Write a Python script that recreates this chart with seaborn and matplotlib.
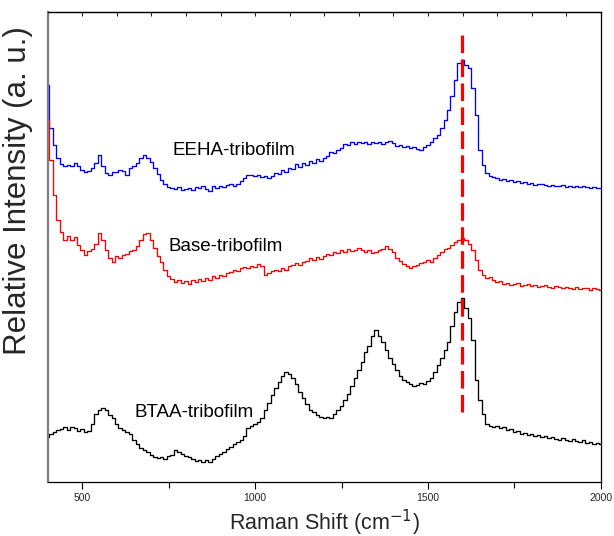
import numpy as np
import pandas as pd
import matplotlib
matplotlib.use("Agg")
import matplotlib.pyplot as plt
from matplotlib.ticker import MultipleLocator
import seaborn as sns

# Raman shift axis (cm^-1)
shift = list(range(400, 2001, 10))

eeha = [415, 372, 355, 342, 336, 334, 335, 334, 337, 334,
        330, 328, 329, 332, 337, 345, 334, 327, 325, 328,
        328, 330, 329, 325, 332, 334, 337, 342, 345, 342,
        338, 332, 326, 320, 316, 313, 312, 311, 313, 310,
        311, 312, 310, 313, 312, 314, 311, 309, 314, 312,
        314, 313, 315, 316, 314, 316, 319, 322, 325, 325,
        324, 325, 323, 324, 322, 324, 327, 326, 330, 328,
        332, 331, 336, 333, 337, 335, 339, 337, 341, 339,
        342, 344, 348, 347, 350, 352, 356, 355, 358, 356,
        358, 357, 358, 356, 358, 357, 358, 356, 358, 359,
        357, 354, 355, 353, 354, 352, 353, 351, 350, 353,
        355, 358, 362, 365, 372, 380, 390, 404, 420, 437,
        440, 435, 432, 412, 385, 350, 335, 327, 324, 323,
        322, 320, 321, 319, 320, 318, 319, 317, 318, 316,
        317, 315, 316, 316, 315, 314, 315, 314, 314, 315,
        313, 314, 313, 314, 313, 314, 313, 312, 313, 312,
        312]

base = [380, 340, 305, 280, 268, 260, 264, 260, 263, 255,
        250, 245, 249, 251, 256, 267, 260, 250, 242, 238,
        244, 242, 245, 246, 249, 250, 254, 260, 266, 267,
        260, 252, 244, 238, 230, 224, 221, 218, 220, 217,
        219, 216, 220, 218, 221, 219, 222, 220, 224, 222,
        225, 224, 227, 228, 230, 229, 232, 233, 232, 234,
        233, 236, 234, 225, 227, 229, 230, 229, 232, 230,
        234, 235, 237, 235, 238, 239, 242, 240, 243, 241,
        244, 246, 245, 248, 247, 250, 248, 251, 249, 250,
        252, 250, 248, 250, 247, 248, 250, 251, 254, 251,
        248, 242, 239, 236, 234, 232, 234, 235, 237, 238,
        240, 238, 242, 245, 248, 251, 252, 255, 258, 260,
        262, 260, 256, 250, 240, 230, 225, 222, 223, 220,
        218, 219, 216, 217, 215, 216, 217, 214, 215, 216,
        214, 215, 213, 214, 215, 213, 212, 214, 213, 212,
        213, 212, 211, 213, 211, 212, 212, 210, 212, 211,
        210]

btaa = [63, 66, 68, 70, 71, 73, 70, 73, 72, 69,
        71, 68, 69, 76, 86, 90, 92, 90, 85, 82,
        76, 72, 70, 68, 66, 60, 56, 52, 50, 48,
        45, 43, 42, 43, 41, 44, 45, 50, 48, 46,
        44, 43, 41, 39, 40, 38, 40, 38, 41, 44,
        46, 48, 51, 53, 56, 58, 60, 64, 72, 74,
        76, 78, 82, 90, 97, 105, 112, 118, 124, 128,
        126, 122, 116, 108, 102, 96, 90, 88, 85, 83,
        82, 83, 82, 86, 90, 94, 100, 106, 114, 122,
        130, 138, 148, 154, 164, 170, 164, 158, 150, 142,
        136, 130, 124, 120, 118, 116, 114, 115, 117, 116,
        119, 122, 128, 135, 142, 150, 158, 174, 188, 198,
        202, 192, 182, 160, 120, 100, 86, 76, 74, 73,
        74, 72, 73, 70, 71, 68, 69, 66, 67, 65,
        66, 64, 65, 63, 64, 62, 63, 61, 60, 62,
        60, 59, 61, 59, 58, 60, 57, 58, 56, 57,
        56]

labels = ["EEHA-tribofilm", "Base-tribofilm", "BTAA-tribofilm"]
colors = ["#0000ff", "#ff0000", "#000000"]
label_x = [760, 751, 650]
label_y = [350, 254, 88]
g_band = 1597
g_band_span = [88, 468]

sns.set_style("white")
plt.rcParams["font.family"] = ["Liberation Sans", "DejaVu Sans"]

fig = plt.figure(figsize=(6.14, 5.36), dpi=100)
ax = fig.add_axes([0.0775, 0.1007, 0.9012, 0.8769])

for series, col in zip([eeha, base, btaa], colors):
    df = pd.DataFrame({"shift": shift, "intensity": series})
    sns.lineplot(data=df, x="shift", y="intensity", ax=ax, color=col,
                 lw=0.95, drawstyle="steps-mid", estimator=None)

ax.plot([g_band, g_band], g_band_span, color="#ff0000", lw=2.3,
        linestyle=(0, (5.5, 2.0)), zorder=5)

for t, x, y in zip(labels, label_x, label_y):
    ax.text(x, y, t, fontsize=13.5, ha="left", va="center", color="black")

ax.set_xlim(400, 2000)
ax.set_ylim(18, 488)
ax.set_yticks([])
ax.xaxis.set_major_locator(MultipleLocator(500))
ax.xaxis.set_minor_locator(MultipleLocator(250))
ax.tick_params(axis="x", which="major", direction="out", length=5, width=0.8,
               labelsize=7.5, pad=3, bottom=True, color="black")
ax.tick_params(axis="x", which="minor", direction="out", length=4, width=0.8,
               bottom=True, color="black")

top = ax.secondary_xaxis("top")
top.xaxis.set_major_locator(MultipleLocator(100))
top.tick_params(axis="x", direction="in", length=3, width=0.8, labeltop=False)
top.spines["top"].set_linewidth(0.9)

for s in ["top", "right", "bottom"]:
    ax.spines[s].set_color("black")
    ax.spines[s].set_linewidth(0.9)
ax.spines["left"].set_color("#808080")
ax.spines["left"].set_linewidth(1.6)

ax.set_xlabel("Raman Shift (cm$^{-1}$)", fontsize=15.5, labelpad=3)
ax.set_ylabel("Relative Intensity (a. u.)", fontsize=22.5)
ax.yaxis.set_label_coords(-0.027, 0.62)

fig.savefig("out.png", dpi=100)
